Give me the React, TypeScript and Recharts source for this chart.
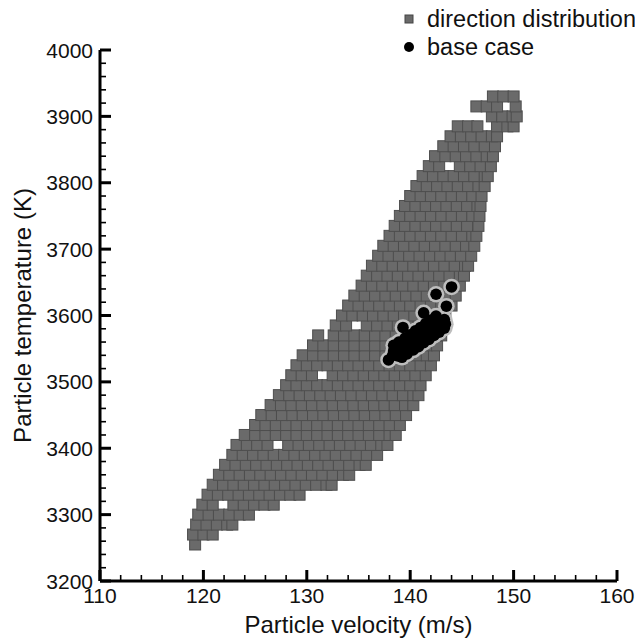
import React from 'react';
import { ScatterChart, Scatter, XAxis, YAxis, Legend, Label } from 'recharts';

const FONT = '"Liberation Sans", Arial, Helvetica, sans-serif';

// Gray squares ("direction distribution"): each row is a temperature level with the velocities found on it
const directionRows: { t: number; v: number[] }[] = [
  { t: 3255, v: [119.2] },
  { t: 3270, v: [119.0, 120.0, 120.9] },
  { t: 3285, v: [119.3, 120.3, 121.3, 122.3, 122.8] },
  { t: 3300, v: [119.5, 120.5, 121.5, 122.5, 123.5, 124.4] },
  { t: 3315, v: [119.9, 120.9, 122.9, 123.9, 124.9, 125.9, 126.8] },
  { t: 3330, v: [120.4, 121.4, 122.4, 123.4, 124.4, 125.4, 126.4, 127.4, 128.4, 129.3] },
  { t: 3345, v: [120.9, 121.9, 122.9, 123.9, 124.9, 125.9, 126.9, 127.9, 128.9, 129.9, 130.9, 131.9, 132.4] },
  { t: 3360, v: [121.5, 122.5, 123.5, 124.5, 125.5, 126.5, 127.5, 128.5, 129.5, 130.5, 131.5, 132.5, 133.5, 134.1] },
  { t: 3375, v: [122.1, 123.1, 124.1, 125.1, 126.1, 127.1, 128.1, 129.1, 130.1, 131.1, 132.1, 133.1, 134.1, 135.1, 135.7] },
  { t: 3390, v: [122.8, 123.8, 124.8, 125.8, 126.8, 127.8, 128.8, 129.8, 130.8, 131.8, 132.8, 133.8, 134.8, 135.8, 136.8] },
  { t: 3405, v: [123.2, 124.2, 125.2, 126.2, 128.2, 129.2, 130.2, 131.2, 132.2, 133.2, 134.2, 135.2, 136.2, 137.2, 137.8] },
  { t: 3420, v: [124.0, 125.0, 126.0, 127.0, 128.0, 129.0, 130.0, 131.0, 132.0, 133.0, 134.0, 135.0, 136.0, 137.0, 138.0, 138.6] },
  { t: 3435, v: [125.0, 126.0, 127.0, 128.0, 129.0, 130.0, 131.0, 132.0, 133.0, 134.0, 135.0, 136.0, 137.0, 138.0, 139.0] },
  { t: 3450, v: [125.6, 126.6, 127.6, 128.6, 129.6, 130.6, 131.6, 132.6, 133.6, 134.6, 135.6, 136.6, 137.6, 138.6, 139.6] },
  { t: 3465, v: [126.5, 127.5, 128.5, 129.5, 130.5, 131.5, 132.5, 133.5, 134.5, 135.5, 136.5, 137.5, 138.5, 139.5, 140.3] },
  { t: 3480, v: [127.3, 128.3, 129.3, 130.3, 131.3, 132.3, 133.3, 134.3, 135.3, 136.3, 137.3, 138.3, 139.3, 140.3, 140.8] },
  { t: 3495, v: [128.0, 129.0, 130.0, 131.0, 132.0, 133.0, 134.0, 135.0, 136.0, 137.0, 138.0, 139.0, 140.0, 141.0] },
  { t: 3510, v: [128.5, 129.5, 130.5, 132.5, 133.5, 134.5, 135.5, 136.5, 137.5, 138.5, 139.5, 140.5, 141.5] },
  { t: 3525, v: [129.0, 130.0, 131.0, 132.0, 133.0, 134.0, 135.0, 136.0, 137.0, 138.0, 139.0, 140.0, 141.0, 142.0] },
  { t: 3540, v: [129.6, 130.6, 131.6, 132.6, 133.6, 134.6, 135.6, 136.6, 137.6, 138.6, 139.6, 140.6, 141.6, 142.3] },
  { t: 3555, v: [130.6, 131.6, 132.6, 133.6, 134.6, 135.6, 136.6, 137.6, 138.6, 139.6, 140.6, 141.6, 142.6] },
  { t: 3570, v: [131.1, 132.6, 133.6, 134.6, 135.6, 136.6, 137.6, 138.6, 139.6, 140.6, 141.6, 142.6, 143.0] },
  { t: 3585, v: [132.8, 133.8, 135.8, 136.8, 137.8, 138.8, 139.8, 140.8, 141.8, 142.8, 143.3] },
  { t: 3600, v: [133.4, 134.4, 135.4, 136.4, 137.4, 138.4, 139.4, 140.4, 141.4, 142.4, 143.4] },
  { t: 3615, v: [134.0, 135.0, 136.0, 137.0, 138.0, 139.0, 140.0, 141.0, 142.0, 143.0, 144.0] },
  { t: 3630, v: [134.6, 135.6, 136.6, 137.6, 138.6, 139.6, 140.6, 141.6, 142.6, 143.6, 144.4] },
  { t: 3645, v: [135.3, 136.3, 137.3, 138.3, 139.3, 140.3, 141.3, 142.3, 143.3, 144.3, 144.8] },
  { t: 3660, v: [135.8, 136.8, 137.8, 138.8, 139.8, 140.8, 141.8, 142.8, 143.8, 144.8, 145.2] },
  { t: 3675, v: [136.3, 137.3, 138.3, 139.3, 140.3, 141.3, 142.3, 143.3, 144.3, 145.3, 145.6] },
  { t: 3690, v: [136.9, 137.9, 138.9, 139.9, 140.9, 141.9, 142.9, 143.9, 144.9, 145.9] },
  { t: 3705, v: [137.4, 138.4, 139.4, 140.4, 141.4, 142.4, 143.4, 144.4, 145.4, 146.2] },
  { t: 3720, v: [138.0, 139.0, 140.0, 141.0, 142.0, 143.0, 144.0, 145.0, 146.0, 146.4] },
  { t: 3735, v: [138.5, 139.5, 140.5, 141.5, 142.5, 143.5, 144.5, 145.5, 146.6] },
  { t: 3750, v: [139.0, 140.0, 141.0, 142.0, 143.0, 144.0, 145.0, 146.0, 146.7] },
  { t: 3765, v: [139.5, 140.5, 141.5, 142.5, 143.5, 144.5, 145.5, 146.5, 146.8] },
  { t: 3780, v: [140.0, 141.0, 142.0, 143.0, 144.0, 145.0, 146.0, 146.9] },
  { t: 3795, v: [140.6, 141.6, 142.6, 143.6, 144.6, 145.6, 146.6, 147.2] },
  { t: 3810, v: [141.2, 142.2, 143.2, 144.2, 145.2, 146.2, 147.2, 147.5] },
  { t: 3825, v: [141.8, 142.8, 144.8, 145.8, 146.8, 147.8] },
  { t: 3840, v: [142.4, 143.4, 144.4, 145.4, 146.4, 147.4, 148.0] },
  { t: 3855, v: [143.2, 144.2, 145.2, 146.2, 147.2, 148.2] },
  { t: 3870, v: [143.9, 144.9, 145.9, 146.9, 147.9, 148.4] },
  { t: 3885, v: [144.6, 145.6, 146.5, 148.4, 149.4, 150.0] },
  { t: 3900, v: [147.9, 148.9, 149.9, 150.3] },
  { t: 3915, v: [146.4, 147.4, 148.4, 150.2] },
  { t: 3930, v: [148.0, 149.0, 150.0] },
];

// Black circles ("base case"): [velocity, temperature]
const baseCase: [number, number][] = [
  [137.9, 3533],
  [138.3, 3540], [138.8, 3546], [139.3, 3551], [139.9, 3557], [140.4, 3562],
  [140.9, 3568], [141.4, 3573], [141.9, 3579], [142.4, 3584], [142.9, 3590],
  [138.4, 3555], [138.9, 3560], [139.5, 3566], [140.0, 3571], [140.5, 3577],
  [141.0, 3582], [141.5, 3588], [142.0, 3593], [142.5, 3599],
  [139.2, 3537], [139.7, 3542], [140.3, 3548], [140.8, 3553], [141.3, 3559],
  [141.8, 3564], [142.3, 3570], [142.8, 3575], [143.3, 3581],
  [138.4, 3547], [138.9, 3553], [139.4, 3558], [140.0, 3564], [140.5, 3569],
  [141.0, 3575], [141.5, 3580], [142.0, 3586], [142.5, 3591],
  [138.8, 3539], [139.3, 3544], [139.8, 3550], [140.4, 3555], [140.9, 3561],
  [141.4, 3566], [141.9, 3572], [142.4, 3577], [142.9, 3583],
  [143.3, 3594], [143.4, 3587],
  [139.3, 3582], [141.3, 3604],
  [142.5, 3632], [144.0, 3643], [143.5, 3614],
];

const xTicks = [110, 112, 114, 116, 118, 120, 122, 124, 126, 128, 130, 132, 134, 136, 138, 140, 142, 144, 146, 148, 150, 152, 154, 156, 158, 160];
const xMajor = [110, 120, 130, 140, 150, 160];
const yTicks = [
  3200, 3220, 3240, 3260, 3280, 3300, 3320, 3340, 3360, 3380, 3400, 3420, 3440, 3460, 3480,
  3500, 3520, 3540, 3560, 3580, 3600, 3620, 3640, 3660, 3680, 3700, 3720, 3740, 3760, 3780,
  3800, 3820, 3840, 3860, 3880, 3900, 3920, 3940, 3960, 3980, 4000,
];
const yMajor = [3200, 3300, 3400, 3500, 3600, 3700, 3800, 3900, 4000];

const directionData = directionRows.flatMap((r) => r.v.map((x) => ({ x, y: r.t })));
const baseData = baseCase.map(([x, y]) => ({ x, y }));

const XTick = (props: any) => {
  const { x, y, payload } = props;
  const major = xMajor.includes(payload.value);
  return (
    <g>
      <line x1={x} x2={x} y1={y} y2={y - (major ? 11 : 6)} stroke="#000" strokeWidth={major ? 3 : 1.6} />
      {major && (
        <text x={x} y={y + 22} textAnchor="middle" fontSize={21} fontFamily={FONT} fill="#111">
          {payload.value}
        </text>
      )}
    </g>
  );
};

const YTick = (props: any) => {
  const { x, y, payload } = props;
  const major = yMajor.includes(payload.value);
  return (
    <g>
      <line x1={x} x2={x + (major ? 11 : 6)} y1={y} y2={y} stroke="#000" strokeWidth={major ? 3 : 1.6} />
      {major && (
        <text x={x - 7} y={y} dy="0.36em" textAnchor="end" fontSize={21} fontFamily={FONT} fill="#111">
          {payload.value}
        </text>
      )}
    </g>
  );
};

const GraySquare = (props: any) => {
  const { cx, cy } = props;
  return <rect x={cx - 5.5} y={cy - 5.5} width={11} height={11} fill="#6a6a6a" stroke="#4e4e4e" strokeWidth={1} />;
};

const Halo = (props: any) => {
  const { cx, cy } = props;
  return <circle cx={cx} cy={cy} r={8.3} fill="#bdbdbd" />;
};

const BlackDot = (props: any) => {
  const { cx, cy } = props;
  return <circle cx={cx} cy={cy} r={5.8} fill="#000" />;
};

const LegendContent = () => (
  <div style={{ fontFamily: FONT, fontSize: 23.5, color: '#111', lineHeight: '28px', whiteSpace: 'nowrap' }}>
    <div style={{ display: 'flex', alignItems: 'center' }}>
      <svg width={20} height={28}>
        <rect x={6} y={10} width={8} height={8} fill="#6a6a6a" stroke="#444" strokeWidth={1} />
      </svg>
      <span style={{ marginLeft: 8 }}>direction distribution</span>
    </div>
    <div style={{ display: 'flex', alignItems: 'center' }}>
      <svg width={20} height={28}>
        <circle cx={10} cy={14} r={5} fill="#000" />
      </svg>
      <span style={{ marginLeft: 8 }}>base case</span>
    </div>
  </div>
);

export default function App() {
  return (
    <div style={{ width: 635, height: 630, background: '#fff' }}>
      <ScatterChart width={635} height={630} margin={{ top: 42, right: 26, bottom: 0, left: 0 }}>
        <XAxis
          type="number"
          dataKey="x"
          domain={[110, 160]}
          ticks={xTicks}
          interval={0}
          height={57}
          tickSize={0}
          tickMargin={0}
          tick={<XTick />}
          axisLine={{ stroke: '#000', strokeWidth: 3 }}
          allowDataOverflow
        >
          <Label
            value="Particle velocity (m/s)"
            position="insideBottom"
            offset={5}
            style={{ fontFamily: FONT, fontSize: 24, fill: '#111' }}
          />
        </XAxis>
        <YAxis
          type="number"
          dataKey="y"
          domain={[3200, 4000]}
          ticks={yTicks}
          interval={0}
          width={92}
          tickSize={0}
          tickMargin={0}
          tick={<YTick />}
          axisLine={{ stroke: '#000', strokeWidth: 3 }}
          allowDataOverflow
        >
          <Label
            value="Particle temperature (K)"
            position="insideLeft"
            angle={-90}
            offset={14}
            style={{ fontFamily: FONT, fontSize: 24, fill: '#111', textAnchor: 'middle' }}
          />
        </YAxis>
        <Legend
          layout="horizontal"
          verticalAlign="middle"
          align="center"
          content={<LegendContent />}
          wrapperStyle={{ top: -3, left: 391, width: 252, height: 60 }}
        />
        <Scatter name="direction distribution" data={directionData} shape={<GraySquare />} isAnimationActive={false} />
        <Scatter name="halo" data={baseData} shape={<Halo />} isAnimationActive={false} legendType="none" />
        <Scatter name="base case" data={baseData} shape={<BlackDot />} isAnimationActive={false} />
      </ScatterChart>
    </div>
  );
}
